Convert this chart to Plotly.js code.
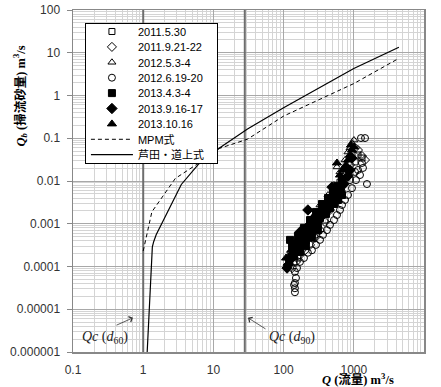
<!DOCTYPE html>
<html><head><meta charset="utf-8">
<script src="https://cdn.plot.ly/plotly-3.0.1.min.js"></script>
<style>html,body{margin:0;padding:0;background:#fff}#c{width:441px;height:387px}</style>
</head><body><div id="c"></div>
<script>
// ---- data ----
const seriesNames = ['2011.5.30','2011.9.21-22','2012.5.3-4','2012.6.19-20','2013.4.3-4','2013.9.16-17','2013.10.16'];

const q_2011_0530 = [189,473,505,1147,1307,1040,636,389,280,141,160];
const qb_2011_0530 = [4.2e-4,3.6e-3,4.45e-3,4.05e-2,3.45e-2,2.79e-2,9.4e-3,1.22e-3,5.5e-4,1.28e-4,1.58e-4];

const q_2011_0921 = [1445,1307,1147,1040,883,750,636,540,458,389,330,280,238,202,171,150,132];
const qb_2011_0921 = [3.1e-2,3.84e-2,5.3e-2,5.92e-2,2.37e-2,1.38e-2,6.8e-3,4.0e-3,2.1e-3,1.1e-3,7.1e-4,4.7e-4,3.2e-4,2.4e-4,1.86e-4,1.28e-4,9.2e-5];

const q_2012_0503 = [576,883,942,826,750,636,522,429,330,253,202,160,1006];
const qb_2012_0503 = [2.13e-2,5.92e-2,7.72e-2,4.76e-2,3.1e-2,1.63e-2,8.0e-3,4.7e-3,2.75e-3,1.36e-3,8.0e-4,4.2e-4,9.07e-2];

const q_2012_0619 = [1265,1445,1540,1225,1074,942,826,750,679,636,576,522,458,415,364,330,289,253,222,195,171,155,145,145,145,145,150,141,1351,1147,1040,1307,883];
const qb_2012_0619 = [0.101,0.101,8.5e-3,1.38e-2,1.05e-2,6.8e-3,4.7e-3,3.6e-3,2.75e-3,2.1e-3,1.6e-3,1.22e-3,9.4e-4,7.1e-4,5.5e-4,4.2e-4,3.2e-4,2.4e-4,2.1e-4,1.58e-4,1.28e-4,9.2e-5,7.5e-5,4.1e-5,3.1e-5,2.5e-5,5.4e-5,3.7e-5,2.02e-2,1.81e-2,1.63e-2,2.64e-2,1.05e-2];

const q_2013_0403 = [120,128,136,150,166,183,202,222,245,271,298,330,364,402,376,308,253,208,171,141,132,160,195,238,289,352,429,505,595,679,123.5,
                     150,171,195,222,253,289,330,402,458,522,595,679,308,253,208,171];
const qb_2013_0403 = [1.28e-4,1.67e-4,2.2e-4,2.9e-4,3.6e-4,4.7e-4,5.8e-4,7.1e-4,8.9e-4,1.1e-3,1.36e-3,1.7e-3,2.1e-3,2.6e-3,1.89e-3,9.9e-4,6.4e-4,4.2e-4,2.7e-4,1.76e-4,3.0e-4,5.2e-4,8.0e-4,1.22e-3,1.89e-3,2.9e-3,4.0e-3,5.5e-3,7.6e-3,1.05e-2,4.2e-4,
                      2.2e-4,3.2e-4,4.2e-4,5.2e-4,8.0e-4,1.1e-3,1.36e-3,1.7e-3,2.34e-3,2.9e-3,3.6e-3,4.7e-3,7.1e-4,4.7e-4,3.0e-4,2.2e-4];

const q_2013_0916 = [116,123.5,141,160,183,208,222,238,271,308,352,402,458,522,595,489,636,725,826,883,774,942,112,171];
const qb_2013_0916 = [1.08e-4,1.42e-4,2.4e-4,3.4e-4,3.8e-4,5.2e-4,2.1e-3,8.0e-4,8.9e-4,1.22e-3,1.52e-3,1.89e-3,2.6e-3,3.6e-3,4.45e-3,7.2e-3,6.1e-3,8.5e-3,1.31e-2,1.81e-2,2.02e-2,3.45e-2,9.2e-5,6.4e-4];

const q_2013_1016 = [576,636,701,774,826,883,942,1006,750,679,558,458,389,330,280,238,202,171,150,128,912,108.5];
const qb_2013_1016 = [2.64e-2,1.38e-2,1.81e-2,2.37e-2,3.1e-2,4.05e-2,5.3e-2,6.24e-2,1.17e-2,8.5e-3,5.5e-3,3.6e-3,2.75e-3,2.1e-3,1.6e-3,1.1e-3,8.0e-4,5.5e-4,3.8e-4,2.4e-4,6.95e-2,1.58e-4];

const mpmQ  = [1.0, 1.13, 1.33, 2.87, 5.8, 12.2, 30.6, 100, 1000, 4390];
const mpmQb = [2.3e-4, 5.5e-4, 1.9e-3, 0.0115, 0.0245, 0.058, 0.095, 0.33, 1.9, 7.4];

const ashidaQ  = [1.14, 1.35, 1.41, 1.53, 3.49, 6.1, 12.2, 30.6, 100, 1000, 4390];
const ashidaQb = [1e-6, 2.9e-4, 3.8e-4, 5.5e-4, 8.3e-3, 0.0245, 0.059, 0.165, 0.515, 4.3, 13.4];

const qcValues = [1.0, 28];           // Qc(d60), Qc(d90)
const qcLabels = ['<i>Qc</i> (<i>d</i><sub>60</sub>)', '<i>Qc</i> (<i>d</i><sub>90</sub>)'];

const xTickVals = [0.1, 1, 10, 100, 1000, 10000];
const xTickText = ['0.1', '1', '10', '100', '1000', '10000'];
const yTickVals = [1e-6, 1e-5, 1e-4, 1e-3, 1e-2, 0.1, 1, 10, 100];
const yTickText = ['0.000001', '0.00001', '0.0001', '0.001', '0.01', '0.1', '1', '10', '100'];

// ---- traces ----
const seriesQ  = [q_2011_0530, q_2011_0921, q_2012_0503, q_2012_0619, q_2013_0403, q_2013_0916, q_2013_1016];
const seriesQb = [qb_2011_0530, qb_2011_0921, qb_2012_0503, qb_2012_0619, qb_2013_0403, qb_2013_0916, qb_2013_1016];
const symbols = ['square-open','diamond-open','triangle-up-open','circle-open','square','diamond','triangle-up'];
const sizes = [6,7,7,7,7,8,8];

const traces = [];
qcValues.forEach(v => traces.push({
  x: [v, v], y: [1e-6, 100], mode: 'lines', showlegend: false, hoverinfo: 'skip',
  line: {color: '#6e6e6e', width: 2}
}));
seriesNames.forEach((n, i) => traces.push({
  x: seriesQ[i], y: seriesQb[i], name: n, mode: 'markers', type: 'scatter',
  marker: {symbol: symbols[i], size: sizes[i], color: '#000', line: {color: '#000', width: 1}}
}));
traces.push({x: mpmQ, y: mpmQb, name: 'MPM式', mode: 'lines', line: {color: '#000', width: 1, dash: '4px,3px'}});
traces.push({x: ashidaQ, y: ashidaQb, name: '芦田・道上式', mode: 'lines', line: {color: '#000', width: 1.2}});

const tickFont = {family: 'Arial, "Liberation Sans", sans-serif', size: 12, color: '#333'};
const L = Math.log10;

const layout = {
  width: 441, height: 387,
  margin: {l: 73, r: 17, t: 10, b: 35},
  paper_bgcolor: '#fff', plot_bgcolor: '#fff',
  showlegend: true,
  xaxis: {
    type: 'log', range: [-1, 4], tickmode: 'array', tickvals: xTickVals, ticktext: xTickText,
    tickfont: tickFont, ticks: '', ticklabelstandoff: 6,
    showgrid: true, gridcolor: '#a8a8a8', gridwidth: 1,
    minor: {dtick: 'D1', showgrid: true, gridcolor: '#d4d4d4', gridwidth: 1, ticks: ''},
    showline: true, linecolor: '#888', linewidth: 1.5, mirror: true, zeroline: false
  },
  yaxis: {
    type: 'log', range: [-6, 2], tickmode: 'array', tickvals: yTickVals, ticktext: yTickText,
    tickfont: tickFont, ticks: 'outside', ticklen: 5, tickcolor: '#888', ticklabelstandoff: 4,
    showgrid: true, gridcolor: '#a8a8a8', gridwidth: 1,
    minor: {dtick: 'D1', showgrid: true, gridcolor: '#d4d4d4', gridwidth: 1, ticks: ''},
    showline: true, linecolor: '#888', linewidth: 1.5, mirror: true, zeroline: false
  },
  legend: {
    x: 0.034, y: 0.962, xanchor: 'left', yanchor: 'top',
    bgcolor: '#fff', bordercolor: '#000', borderwidth: 1,
    font: {family: 'Arial, "Liberation Sans", "Noto Sans CJK JP", sans-serif', size: 11, color: '#000'},
    itemwidth: 42, tracegroupgap: 0
  },
  annotations: [
    {xref: 'paper', yref: 'paper', x: -0.151, y: 0.75, xanchor: 'center', yanchor: 'middle', textangle: -90, showarrow: false,
     text: '<b><i>Q<sub>b</sub></i> (掃流砂量) m<sup>3</sup>/s</b>',
     font: {family: '"Liberation Serif", "Noto Sans CJK JP", serif', size: 12.5, color: '#000'}},
    {xref: 'paper', yref: 'paper', x: 0.812, y: -0.08, xanchor: 'center', yanchor: 'middle', showarrow: false,
     text: '<b><i>Q</i> (流量) m<sup>3</sup>/s</b>',
     font: {family: '"Liberation Serif", "Noto Sans CJK JP", serif', size: 12.5, color: '#000'}},
    {x: L(0.286), y: L(2.2e-6), showarrow: false, text: qcLabels[0],
     font: {family: '"Liberation Serif", serif', size: 14, color: '#222'}},
    {x: L(132), y: L(2.2e-6), showarrow: false, text: qcLabels[1],
     font: {family: '"Liberation Serif", serif', size: 14, color: '#222'}},
    {x: L(0.716), y: L(6.3e-6), ax: -18, ay: 8, text: '', showarrow: true, arrowhead: 4, arrowsize: 1.4, arrowwidth: 0.8, arrowcolor: '#333'},
    {x: L(31.1), y: L(6.3e-6), ax: 19, ay: 12, text: '', showarrow: true, arrowhead: 4, arrowsize: 1.4, arrowwidth: 0.8, arrowcolor: '#333'}
  ]
};

Plotly.newPlot('c', traces, layout, {displayModeBar: false, staticPlot: true}).then(() => {
  // tighten the legend row spacing to match the reference box
  const leg = document.querySelector('.legend');
  if (!leg) return;
  const items = leg.querySelectorAll('.traces');
  const spacing = 15.4, y0 = 8.5;
  items.forEach((it, i) => {
    const m = (it.getAttribute('transform') || '').match(/translate\(\s*([-\d.]+)[,\s]+([-\d.]+)\s*\)/);
    const x = m ? m[1] : 0;
    it.setAttribute('transform', 'translate(' + x + ',' + (y0 + i * spacing) + ')');
  });
  const bg = leg.querySelector('rect.bg');
  if (bg) {
    bg.setAttribute('height', y0 + (items.length - 1) * spacing + 8);
    bg.setAttribute('width', 132);
  }
});
</script>
</body></html>
